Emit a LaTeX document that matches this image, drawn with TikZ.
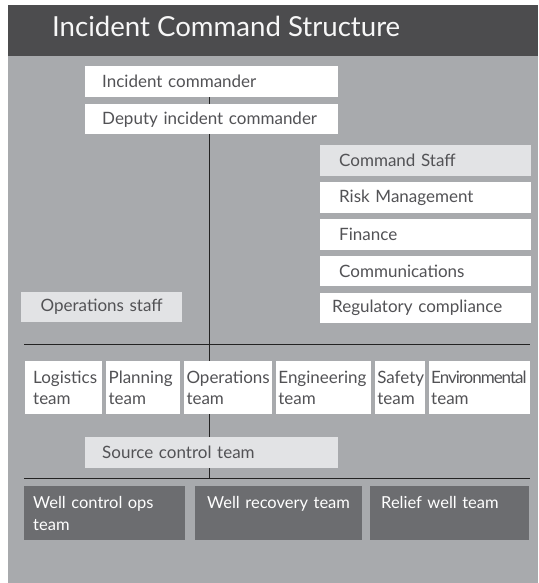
\documentclass[tikz,border=0pt]{standalone}
\usepackage{fontspec}
\setmainfont{Lato}
\usetikzlibrary{positioning, backgrounds}
\definecolor{panelgray}{RGB}{168, 170, 173}
\definecolor{headgray}{RGB}{76, 76, 78}
\definecolor{palegray}{RGB}{226, 227, 229}
\definecolor{wellgray}{RGB}{108, 109, 112}
\definecolor{inkgray}{RGB}{82, 82, 85}
\definecolor{linegray}{RGB}{35, 35, 35}

\begin{document}
\begin{tikzpicture}[x=1pt, y=-1pt,
		every node/.style={font=\fontsize{17}{21}\selectfont, text=inkgray},
		box/.style={fill=white, anchor=north west, align=left, inner ysep=0pt,
			inner xsep=19pt, minimum height=31pt, text width=#1},
		pale/.style={box=#1, fill=palegray},
		team/.style={box=#1, inner xsep=2.5pt, minimum height=53pt},
		well/.style={box=#1, fill=wellgray, text=white, inner xsep=9pt, minimum height=54pt,
			font=\fontsize{16.5}{22}\selectfont},
		link/.style={draw=linegray, line width=0.9pt}]
	\useasboundingbox (0,0) rectangle (538,583);
	
	%--- Title ---
	\node[anchor=base west, inner sep=0pt, text=white!94!gray,
	font=\fontsize{27.6}{30}\selectfont] (title) at (52,37) {Incident Command Structure};
	
	%--- Commanders ---
	\node[box=219pt, inner xsep=17pt] (ic) at (85,66) {Incident commander};
	\node[box=219pt, inner xsep=17pt, minimum height=30pt] (deputy) at (85,104) {Deputy incident commander};
	
	%--- Command staff (right column) ---
	\node[pale=173pt, minimum height=30.5pt] (cmdstaff) at (320,145) {Command Staff};
	\node[box=173pt, minimum height=30.5pt, below=6pt of cmdstaff] (risk) {Risk Management};
	\node[box=173pt, minimum height=30.5pt, below=6pt of risk] (finance) {Finance};
	\node[box=173pt, minimum height=30.5pt, below=6pt of finance] (comms) {Communications};
	\node[box=187pt, inner xsep=12pt, minimum height=30.5pt, below=6pt of comms] (regcomp) {Regulatory compliance};
	
	%--- Operations staff ---
	\node[pale=161pt, inner xsep=0pt, align=center, minimum height=30pt] (opsstaff) at (21,292) {Operations staff};
	
	%--- Teams ---
	\node[team=61pt, inner xsep=8pt] (logistics) at (25,361) {Logistics\\team};
	\node[team=69pt, right=3.5pt of logistics] (planning) {Planning\\team};
	\node[team=83pt, right=3.5pt of planning] (operations) {Operations\\team};
	\node[team=90pt, right=3.5pt of operations] (engineering) {Engineering\\team};
	\node[team=45pt, right=3.5pt of engineering] (safety) {Safety\\team};
	\node[team=96pt, right=3.5pt of safety] (environ)
	{{\addfontfeature{LetterSpace=-6}Environmental}\\team};
	
	\node[pale=219pt, inner xsep=17pt] (source) at (85,437) {Source control team};
	
	%--- Well teams ---
	\node[well=143pt] (wellops) at (24,486) {Well control ops\\team};
	\node[well=149pt] (recovery) at (195,486) {\hspace*{3pt}Well recovery team\\\mbox{}};
	\node[well=141pt] (relief) at (370,486) {\hspace*{2pt}Relief well team\\\mbox{}};
	
	\coordinate (busa-w) at (24,344.5);
	\coordinate (busa-e) at (530,344.5);
	\coordinate (busb-w) at (24,478.5);
	\coordinate (busb-e) at (530,478.5);
	
	\begin{scope}[on background layer]
		\fill[panelgray] (8,5) rectangle (538,583);
		\fill[headgray] (8,5) rectangle (538,56);
		\draw[link] ([xshift=-2.5pt]ic.south) -- ([xshift=-2.5pt]ic.south |- busb-w);
		\draw[link] (busa-w) -- (busa-e);
		\draw[link] (busb-w) -- (busb-e);
	\end{scope}
\end{tikzpicture}
\end{document}
